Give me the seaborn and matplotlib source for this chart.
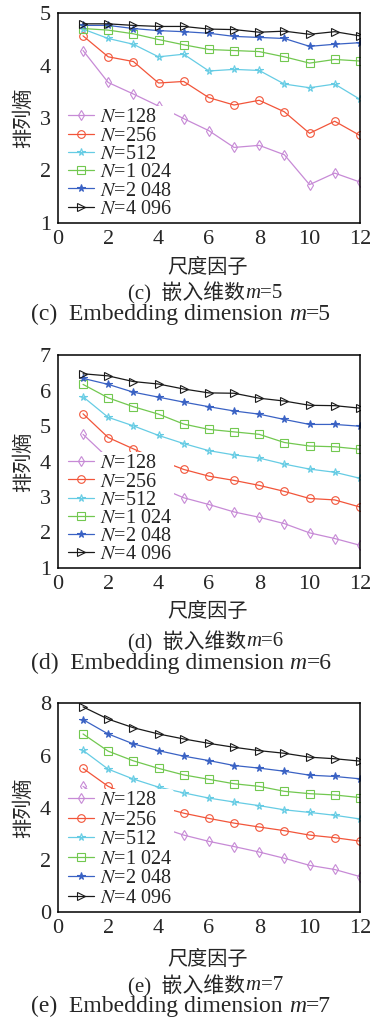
import numpy as np
import pandas as pd
import matplotlib
matplotlib.use('Agg')
import matplotlib.pyplot as plt
import seaborn as sns

sns.set_style('white')
plt.rcParams['font.family'] = ['Liberation Serif', 'Noto Sans CJK SC']
plt.rcParams['mathtext.fontset'] = 'stix'

scales = list(range(1, 13))
labels = ['$N$=128', '$N$=256', '$N$=512', '$N$=1 024', '$N$=2 048', '$N$=4 096']
colors = ['#c78ad6', '#f2553a', '#66cce4', '#72c850', '#3a62c4', '#1a1a1a']
markers = ['d', 'o', '*', 's', '*', '>']

# m=5
m5_128 = [4.29, 3.68, 3.46, 3.23, 2.99, 2.76, 2.44, 2.48, 2.30, 1.73, 1.95, 1.78]
m5_256 = [4.57, 4.17, 4.08, 3.67, 3.70, 3.39, 3.25, 3.34, 3.12, 2.71, 2.94, 2.67]
m5_512 = [4.70, 4.52, 4.41, 4.17, 4.22, 3.90, 3.93, 3.91, 3.65, 3.58, 3.65, 3.36]
m5_1024 = [4.71, 4.68, 4.61, 4.50, 4.40, 4.31, 4.29, 4.27, 4.17, 4.05, 4.12, 4.09]
m5_2048 = [4.77, 4.77, 4.71, 4.67, 4.65, 4.62, 4.56, 4.54, 4.52, 4.37, 4.41, 4.44]
m5_4096 = [4.80, 4.80, 4.77, 4.75, 4.75, 4.70, 4.69, 4.64, 4.66, 4.60, 4.65, 4.57]

# m=6
m6_128 = [4.77, 4.10, 3.68, 3.28, 2.98, 2.79, 2.58, 2.43, 2.25, 1.99, 1.83, 1.64]
m6_256 = [5.35, 4.68, 4.36, 4.05, 3.78, 3.59, 3.47, 3.33, 3.16, 2.96, 2.92, 2.72]
m6_512 = [5.83, 5.25, 5.01, 4.74, 4.51, 4.31, 4.19, 4.10, 3.93, 3.79, 3.70, 3.53]
m6_1024 = [6.18, 5.80, 5.55, 5.34, 5.06, 4.91, 4.84, 4.77, 4.54, 4.44, 4.42, 4.35]
m6_2048 = [6.35, 6.18, 5.96, 5.82, 5.68, 5.55, 5.43, 5.34, 5.19, 5.05, 5.05, 5.00]
m6_4096 = [6.48, 6.42, 6.26, 6.19, 6.05, 5.94, 5.93, 5.79, 5.71, 5.59, 5.58, 5.51]

# m=7
m7_128 = [4.82, 4.15, 3.65, 3.27, 2.95, 2.71, 2.51, 2.30, 2.06, 1.79, 1.63, 1.36]
m7_256 = [5.51, 4.82, 4.40, 4.05, 3.79, 3.59, 3.41, 3.26, 3.12, 2.95, 2.85, 2.72]
m7_512 = [6.20, 5.48, 5.10, 4.79, 4.57, 4.37, 4.22, 4.08, 3.92, 3.82, 3.71, 3.57]
m7_1024 = [6.83, 6.17, 5.80, 5.51, 5.26, 5.09, 4.92, 4.82, 4.63, 4.54, 4.49, 4.39]
m7_2048 = [7.38, 6.83, 6.45, 6.19, 5.98, 5.81, 5.62, 5.52, 5.40, 5.25, 5.20, 5.11]
m7_4096 = [7.87, 7.40, 7.07, 6.83, 6.64, 6.47, 6.32, 6.19, 6.09, 5.94, 5.88, 5.79]

panels = [
    ([m5_128, m5_256, m5_512, m5_1024, m5_2048, m5_4096], (1, 5), [1, 2, 3, 4, 5], 'c', 5),
    ([m6_128, m6_256, m6_512, m6_1024, m6_2048, m6_4096], (1, 7), [1, 2, 3, 4, 5, 6, 7], 'd', 6),
    ([m7_128, m7_256, m7_512, m7_1024, m7_2048, m7_4096], (0, 8), [0, 2, 4, 6, 8], 'e', 7),
]
# axes boxes in figure fractions (left, bottom, width, height)
boxes = [(0.156, 0.783, 0.814, 0.204), (0.156, 0.447, 0.814, 0.207), (0.156, 0.112, 0.814, 0.203)]
cap_y = [(0.739, 0.714, 0.694), (0.404, 0.375, 0.354), (0.065, 0.040, 0.020)]
leg_space = [-0.04, -0.05, 0.02]

fig = plt.figure(figsize=(3.71, 10.27), dpi=100)
renderer = fig.canvas.get_renderer()


def caption(xc, y, parts, size):
    # chain of text pieces (so the italic m can sit next to CJK text), centred on xc
    arts = [fig.text(0, y, s, fontsize=size, fontstyle=st, va='center', ha='left') for s, st in parts]
    widths = [a.get_window_extent(renderer).width / fig.bbox.width for a in arts]
    x = xc - sum(widths) / 2
    for a, w in zip(arts, widths):
        a.set_x(x)
        x += w


for (series, ylim, yticks, tag, m), box, cy, sp in zip(panels, boxes, cap_y, leg_space):
    ax = fig.add_axes(box)
    for vals, lab, c, mk in zip(series, labels, colors, markers):
        df = pd.DataFrame({'scale': scales, 'pe': vals})
        filled = c == '#3a62c4'
        sns.lineplot(data=df, x='scale', y='pe', ax=ax, color=c, lw=0.9,
                     marker=mk, markersize=5.5,
                     markerfacecolor=c if filled else 'none',
                     markeredgecolor=c, markeredgewidth=0.8, label=lab)
    ax.set_xlim(0, 12)
    ax.set_ylim(*ylim)
    ax.set_xticks([0, 2, 4, 6, 8, 10, 12])
    ax.set_yticks(yticks)
    ax.tick_params(direction='in', length=4, width=1, labelsize=16, pad=5)
    for s in ax.spines.values():
        s.set_color('black')
        s.set_linewidth(1.1)
    ax.set_xlabel('')
    ax.set_ylabel('排列熵', fontsize=14.5, labelpad=4)
    ax.legend(loc='lower left', bbox_to_anchor=(0.02, 0.0), fontsize=14.5,
              frameon=True, framealpha=1, facecolor='white', edgecolor='none',
              handlelength=1.3, handletextpad=0.3, labelspacing=sp,
              borderpad=0.1, borderaxespad=0.1)
    fig.text(0.559, cy[0], '尺度因子', ha='center', va='center', fontsize=14.5)
    caption(0.554, cy[1], [('(' + tag + ')  嵌入维数', 'normal'), ('m', 'italic'), ('=' + str(m), 'normal')], 15)
    caption(0.488, cy[2], [('(' + tag + ')  Embedding dimension ', 'normal'), ('m', 'italic'), ('=' + str(m), 'normal')], 17)

fig.savefig('out.png', dpi=100)
